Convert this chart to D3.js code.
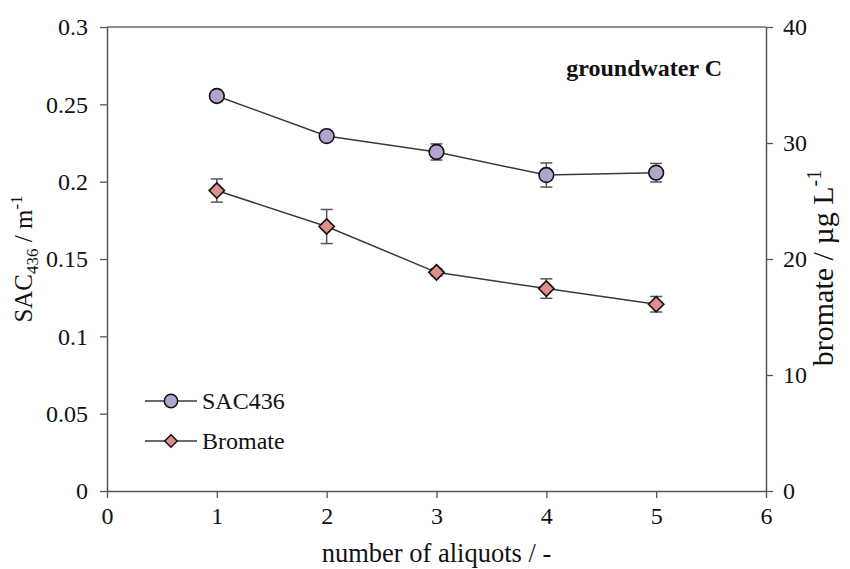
<!DOCTYPE html>
<html>
<head>
<meta charset="utf-8">
<script src="https://cdn.jsdelivr.net/npm/d3@7"></script>
<style>
  body { margin: 0; background: #fff; }
  #chart { width: 850px; height: 569px; }
</style>
</head>
<body>
<div id="chart"></div>
<script>
const aliquots = [1, 2, 3, 4, 5];
const sac436 = [0.2554, 0.2295, 0.2192, 0.2043, 0.2058];
const sac436Err = [0.002, 0.002, 0.0052, 0.0078, 0.006];
const bromate = [25.9, 22.8, 18.85, 17.45, 16.1];
const bromateErr = [1.0, 1.47, 0.3, 0.84, 0.67];
const xTicks = [0, 1, 2, 3, 4, 5, 6];
const leftTicks = [0, 0.05, 0.1, 0.15, 0.2, 0.25, 0.3];
const rightTicks = [0, 10, 20, 30, 40];

const margin = { top: 27, right: 84, bottom: 78, left: 107 };
const totalWidth = 850, totalHeight = 569;
const width = totalWidth - margin.left - margin.right;
const height = totalHeight - margin.top - margin.bottom;

const font = "'Liberation Serif', 'Times New Roman', serif";
const axisColor = "#555";
const lineColor = "#3a3a3a";
const sacFill = "#b3a3cf";
const broFill = "#e08e8c";

const svgEl = d3.select("#chart").append("svg")
  .attr("width", totalWidth)
  .attr("height", totalHeight)
  .style("font-family", font);

const svg = svgEl.append("g")
  .attr("transform", `translate(${margin.left},${margin.top})`);

const x = d3.scaleLinear().domain([0, 6]).range([0, width]);
const yL = d3.scaleLinear().domain([0, 0.3]).range([height, 0]);
const yR = d3.scaleLinear().domain([0, 40]).range([height, 0]);

// frame top line
svg.append("line")
  .attr("x1", 0).attr("x2", width)
  .attr("y1", 0).attr("y2", 0)
  .attr("stroke", "#222").attr("stroke-width", 1.2);

function styleAxis(g) {
  g.select(".domain").attr("stroke", axisColor).attr("stroke-width", 1.5);
  g.selectAll(".tick line").attr("stroke", axisColor).attr("stroke-width", 1.3);
  g.selectAll("text")
    .attr("font-family", font)
    .attr("font-size", "24px")
    .attr("fill", "#111");
}

svg.append("g")
  .attr("transform", `translate(0,${height})`)
  .call(d3.axisBottom(x).tickValues(xTicks).tickSize(7).tickSizeOuter(0).tickPadding(9).tickFormat(d3.format("d")))
  .call(styleAxis);

svg.append("g")
  .call(d3.axisLeft(yL).tickValues(leftTicks).tickSize(7).tickSizeOuter(0).tickPadding(12).tickFormat(d => d === 0 ? "0" : String(d)))
  .call(styleAxis);

svg.append("g")
  .attr("transform", `translate(${width},0)`)
  .call(d3.axisRight(yR).tickValues(rightTicks).tickSize(7).tickSizeOuter(0).tickPadding(10).tickFormat(d3.format("d")))
  .call(styleAxis);

// axis titles
svg.append("text")
  .attr("x", width / 2)
  .attr("y", height + 71)
  .attr("text-anchor", "middle")
  .attr("font-size", "26.5px")
  .attr("fill", "#111")
  .text("number of aliquots / -");

const leftTitle = svg.append("text")
  .attr("transform", `translate(${-75},${height / 2}) rotate(-90)`)
  .attr("text-anchor", "middle")
  .attr("font-size", "25px")
  .attr("fill", "#111");
leftTitle.append("tspan").text("SAC");
leftTitle.append("tspan").attr("dy", 6).attr("font-size", "17px").text("436");
leftTitle.append("tspan").attr("dy", -6).text(" / m");
leftTitle.append("tspan").attr("dy", -10).attr("font-size", "17px").text("-1");

const rightTitle = svg.append("text")
  .attr("transform", `translate(${width + 67},${height / 2 + 9}) rotate(-90)`)
  .attr("text-anchor", "middle")
  .attr("font-size", "30px")
  .attr("fill", "#111");
rightTitle.append("tspan").text("bromate / µg L");
rightTitle.append("tspan").attr("dy", -12).attr("font-size", "20px").text("-1");

// panel label
svg.append("text")
  .attr("x", x(5.6))
  .attr("y", 49)
  .attr("text-anchor", "end")
  .attr("font-size", "24px")
  .attr("font-weight", "bold")
  .attr("fill", "#111")
  .text("groundwater C");

const sacData = aliquots.map((a, i) => ({ x: a, y: sac436[i], e: sac436Err[i] }));
const broData = aliquots.map((a, i) => ({ x: a, y: bromate[i], e: bromateErr[i] }));

function drawSeries(data, yScale, kind, fill) {
  svg.append("path")
    .datum(data)
    .attr("fill", "none")
    .attr("stroke", lineColor)
    .attr("stroke-width", 1.5)
    .attr("d", d3.line().x(d => x(d.x)).y(d => yScale(d.y)));

  const eb = svg.append("g").selectAll("g").data(data).join("g")
    .attr("stroke", axisColor).attr("stroke-width", 1.5);
  eb.append("line")
    .attr("x1", d => x(d.x)).attr("x2", d => x(d.x))
    .attr("y1", d => yScale(d.y - d.e)).attr("y2", d => yScale(d.y + d.e));
  eb.append("line")
    .attr("x1", d => x(d.x) - 6).attr("x2", d => x(d.x) + 6)
    .attr("y1", d => yScale(d.y + d.e)).attr("y2", d => yScale(d.y + d.e));
  eb.append("line")
    .attr("x1", d => x(d.x) - 6).attr("x2", d => x(d.x) + 6)
    .attr("y1", d => yScale(d.y - d.e)).attr("y2", d => yScale(d.y - d.e));

  const sym = kind === "circle" ? d3.symbolCircle : d3.symbolDiamond2;
  const size = kind === "circle" ? 170 : 150;
  svg.append("g").selectAll("path").data(data).join("path")
    .attr("transform", d => `translate(${x(d.x)},${yScale(d.y)})`)
    .attr("d", d3.symbol().type(sym).size(size))
    .attr("fill", fill)
    .attr("stroke", "#111")
    .attr("stroke-width", 1.6);
}

drawSeries(sacData, yL, "circle", sacFill);
drawSeries(broData, yR, "diamond", broFill);

// legend
const legend = [
  { label: "SAC436", kind: "circle", fill: sacFill },
  { label: "Bromate", kind: "diamond", fill: broFill }
];
const lg = svg.append("g").attr("transform", "translate(38,374)");
legend.forEach((d, i) => {
  const row = lg.append("g").attr("transform", `translate(0,${i * 40})`);
  row.append("line")
    .attr("x1", 0).attr("x2", 52)
    .attr("y1", 0).attr("y2", 0)
    .attr("stroke", lineColor).attr("stroke-width", 1.5);
  row.append("path")
    .attr("transform", "translate(26,0)")
    .attr("d", d3.symbol().type(d.kind === "circle" ? d3.symbolCircle : d3.symbolDiamond2).size(d.kind === "circle" ? 140 : 100))
    .attr("fill", d.fill)
    .attr("stroke", "#111")
    .attr("stroke-width", 1.5);
  row.append("text")
    .attr("x", 57)
    .attr("y", 8)
    .attr("font-size", "24px")
    .attr("fill", "#111")
    .text(d.label);
});
</script>
</body>
</html>
